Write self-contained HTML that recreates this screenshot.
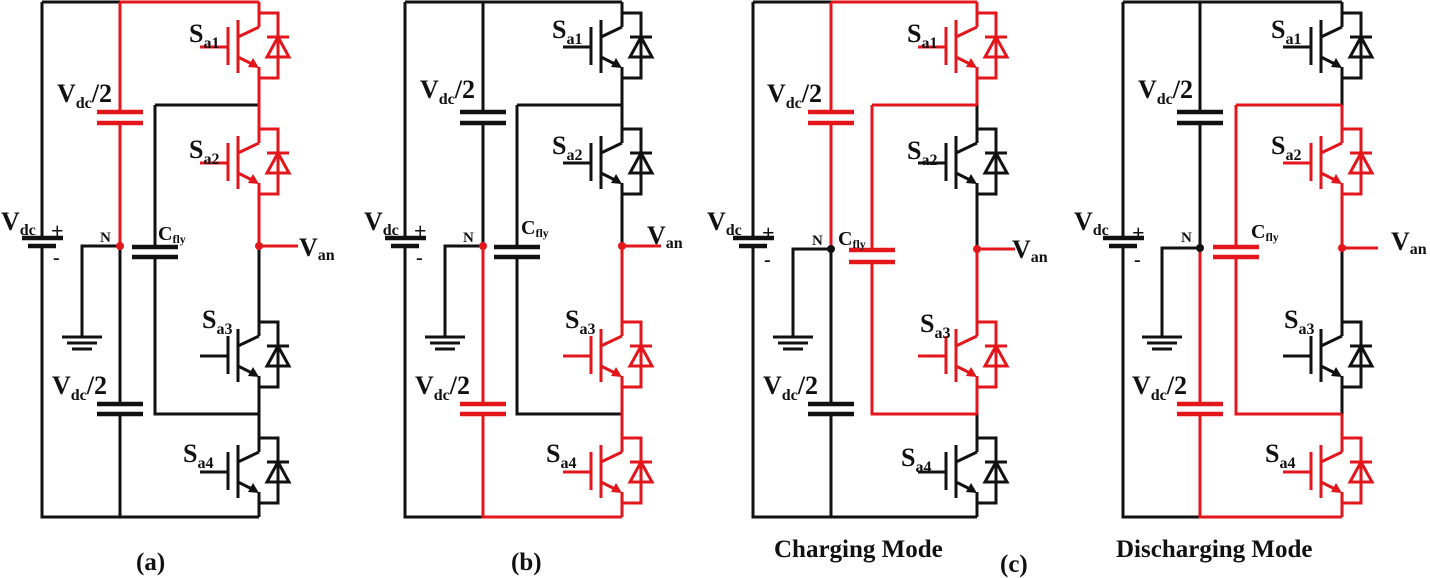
<!DOCTYPE html>
<html><head><meta charset="utf-8"><style>
html,body{margin:0;padding:0;background:#fff}
svg{display:block}
.k{stroke:#111;fill:none;stroke-width:3}
.r{stroke:#e3161c;fill:none;stroke-width:3}
.pk{stroke:#111;stroke-width:4.5}
.pr{stroke:#e3161c;stroke-width:4.5}
text{font-family:"Liberation Serif",serif;font-weight:bold;fill:#111}
.t{font-size:26px}
.s{font-size:16px}
.n{font-size:15px}
.cap{font-size:25px}
</style></head><body>
<svg width="1430" height="578" viewBox="0 0 1430 578" xmlns="http://www.w3.org/2000/svg">
<defs>
<g id="sw" fill="none" stroke="currentColor" stroke-width="3">
<path d="M-59,0 H-31 M-31,-20 V18 M-21,-27 V26 M-21,-10 L0,-20 M0,-34 V-20 M-21,10 L-5,18 M0,20 V31 M0,-34 H19 V31 H0 M8,-10 H30 M19,-10 L8,10 H30 Z"/>
<path d="M0,21 L-11,20 L-6,11 Z" fill="currentColor" stroke="none"/>
</g>
<g id="gnd" stroke="#111" stroke-width="3"><path d="M-20,0 H20 M-15,6 H15 M-10,12 H10"/></g>
</defs>

<!-- ================= Panel (a) ================= -->
<path class="k" d="M42,2 V238 M42,246 V517 H259 M42,2 H120 M120,246 V404 M120,414 V517 M155,105 H259 M155,105 V247 M155,257 V414 H259 M120,246 H82 V337 M259,246 V322 M259,387 V438 M259,503 V517"/>
<path class="pk" d="M97,404 H143 M97,414 H143 M132,247 H178 M132,257 H178 M22,238 H63 M28,246 H56"/>
<use href="#gnd" x="82" y="337"/>
<path class="r" d="M120,2 H259 M120,2 V112 M120,123 V246 M259,2 V13 M259,78 V129 M259,194 V246 H298"/>
<path class="pr" d="M97,112 H143 M97,123 H143"/>
<use href="#sw" x="259" y="47" color="#e3161c"/>
<use href="#sw" x="259" y="163" color="#e3161c"/>
<use href="#sw" x="259" y="356" color="#111"/>
<use href="#sw" x="259" y="472" color="#111"/>
<circle cx="120" cy="246" r="4" fill="#e3161c"/><circle cx="259" cy="246" r="4" fill="#e3161c"/>

<!-- ================= Panel (b) ================= -->
<path class="k" d="M405,2 V238 M405,246 V517 H483 M405,2 H622 M483,2 V112 M483,123 V246 M517,105 H622 M517,105 V247 M517,257 V414 H622 M483,246 H445 V337 M622,2 V13 M622,78 V129 M622,194 V246"/>
<path class="pk" d="M460,112 H506 M460,123 H506 M494,247 H540 M494,257 H540 M385,238 H426 M391,246 H419"/>
<use href="#gnd" x="445" y="337"/>
<path class="r" d="M483,246 V404 M483,414 V517 H622 M622,246 V322 M622,387 V438 M622,503 V517 M622,246 H661"/>
<path class="pr" d="M460,404 H506 M460,414 H506"/>
<use href="#sw" x="622" y="47" color="#111"/>
<use href="#sw" x="622" y="163" color="#111"/>
<use href="#sw" x="622" y="356" color="#e3161c"/>
<use href="#sw" x="622" y="472" color="#e3161c"/>
<circle cx="483" cy="246" r="4" fill="#e3161c"/><circle cx="622" cy="246" r="4" fill="#e3161c"/>

<!-- ================= Panel (c) ================= -->
<path class="k" d="M753,2 V238 M753,246 V517 H977 M753,2 H831 M831,249 V404 M831,414 V517 M831,249 H793 V337 M977,105 V129 M977,194 V249 M977,414 V438 M977,503 V517"/>
<path class="pk" d="M808,404 H854 M808,414 H854 M733,238 H774 M739,246 H767"/>
<use href="#gnd" x="793" y="337"/>
<path class="r" d="M831,2 H977 M831,2 V112 M831,123 V249 M872,105 H977 M872,105 V250 M872,262 V414 H977 M977,2 V13 M977,78 V105 M977,249 V322 M977,387 V414 M977,249 H1015"/>
<path class="pr" d="M808,112 H854 M808,123 H854 M849,250 H895 M849,262 H895"/>
<use href="#sw" x="977" y="47" color="#e3161c"/>
<use href="#sw" x="977" y="163" color="#111"/>
<use href="#sw" x="977" y="356" color="#e3161c"/>
<use href="#sw" x="977" y="472" color="#111"/>
<circle cx="831" cy="249" r="4" fill="#111"/><circle cx="977" cy="249" r="4" fill="#e3161c"/>

<!-- ================= Panel (d) ================= -->
<path class="k" d="M1123,2 V238 M1123,246 V517 H1200 M1123,2 H1342 M1200,2 V112 M1200,123 V248 M1200,248 H1162 V337 M1342,2 V13 M1342,78 V105 M1342,248 V322 M1342,387 V414"/>
<path class="pk" d="M1177,112 H1223 M1177,123 H1223 M1103,238 H1144 M1109,246 H1137"/>
<use href="#gnd" x="1162" y="337"/>
<path class="r" d="M1200,248 V404 M1200,414 V517 H1342 M1236,105 H1342 M1236,105 V247 M1236,257 V414 H1342 M1342,105 V129 M1342,194 V248 M1342,414 V438 M1342,503 V517 M1342,248 H1378"/>
<path class="pr" d="M1177,404 H1223 M1177,414 H1223 M1213,247 H1259 M1213,257 H1259"/>
<use href="#sw" x="1342" y="47" color="#111"/>
<use href="#sw" x="1342" y="163" color="#e3161c"/>
<use href="#sw" x="1342" y="356" color="#111"/>
<use href="#sw" x="1342" y="472" color="#e3161c"/>
<circle cx="1200" cy="248" r="4" fill="#111"/><circle cx="1342" cy="248" r="4" fill="#e3161c"/>

<!-- ================= Labels ================= -->
<text class="t" x="57" y="102">V<tspan class="s" dy="6">dc</tspan><tspan dy="-6">/2</tspan></text>
<text class="t" x="52" y="394">V<tspan class="s" dy="6">dc</tspan><tspan dy="-6">/2</tspan></text>
<text class="t" x="1" y="230">V<tspan class="s" dy="5">dc</tspan></text>
<text class="t" x="51" y="238" style="font-size:22px">+</text><text class="t" x="53" y="264" style="font-size:20px">-</text>
<text class="n" x="100" y="242">N</text>
<text class="t" x="158" y="240" style="font-size:20px">C<tspan class="s" style="font-size:12px" dy="3">fly</tspan></text>
<text class="t" x="189" y="42">S<tspan class="s" dy="6">a1</tspan></text>
<text class="t" x="189" y="158">S<tspan class="s" dy="6">a2</tspan></text>
<text class="t" x="202" y="328">S<tspan class="s" dy="6">a3</tspan></text>
<text class="t" x="183" y="462">S<tspan class="s" dy="6">a4</tspan></text>
<text class="t" x="299" y="256">V<tspan class="s" dy="4">an</tspan></text>
<text class="cap" x="136" y="570">(a)</text>

<text class="t" x="420" y="98">V<tspan class="s" dy="6">dc</tspan><tspan dy="-6">/2</tspan></text>
<text class="t" x="415" y="394">V<tspan class="s" dy="6">dc</tspan><tspan dy="-6">/2</tspan></text>
<text class="t" x="364" y="230">V<tspan class="s" dy="5">dc</tspan></text>
<text class="t" x="414" y="238" style="font-size:22px">+</text><text class="t" x="416" y="264" style="font-size:20px">-</text>
<text class="n" x="463" y="242">N</text>
<text class="t" x="521" y="234" style="font-size:20px">C<tspan class="s" style="font-size:12px" dy="3">fly</tspan></text>
<text class="t" x="552" y="38">S<tspan class="s" dy="6">a1</tspan></text>
<text class="t" x="552" y="154">S<tspan class="s" dy="6">a2</tspan></text>
<text class="t" x="565" y="328">S<tspan class="s" dy="6">a3</tspan></text>
<text class="t" x="546" y="462">S<tspan class="s" dy="6">a4</tspan></text>
<text class="t" x="647" y="244">V<tspan class="s" dy="4">an</tspan></text>
<text class="cap" x="511" y="570">(b)</text>

<text class="t" x="767" y="102">V<tspan class="s" dy="6">dc</tspan><tspan dy="-6">/2</tspan></text>
<text class="t" x="763" y="394">V<tspan class="s" dy="6">dc</tspan><tspan dy="-6">/2</tspan></text>
<text class="t" x="707" y="230">V<tspan class="s" dy="5">dc</tspan></text>
<text class="t" x="762" y="240" style="font-size:22px">+</text><text class="t" x="764" y="266" style="font-size:20px">-</text>
<text class="n" x="812" y="245">N</text>
<text class="t" x="838" y="245" style="font-size:20px">C<tspan class="s" style="font-size:12px" dy="3">fly</tspan></text>
<text class="t" x="907" y="42">S<tspan class="s" dy="6">a1</tspan></text>
<text class="t" x="907" y="159">S<tspan class="s" dy="6">a2</tspan></text>
<text class="t" x="920" y="332">S<tspan class="s" dy="6">a3</tspan></text>
<text class="t" x="901" y="466">S<tspan class="s" dy="6">a4</tspan></text>
<text class="t" x="1012" y="258">V<tspan class="s" dy="4">an</tspan></text>
<text class="cap" x="774" y="557">Charging Mode</text>
<text class="cap" x="1000" y="572">(c)</text>

<text class="t" x="1138" y="98">V<tspan class="s" dy="6">dc</tspan><tspan dy="-6">/2</tspan></text>
<text class="t" x="1132" y="394">V<tspan class="s" dy="6">dc</tspan><tspan dy="-6">/2</tspan></text>
<text class="t" x="1074" y="230">V<tspan class="s" dy="5">dc</tspan></text>
<text class="t" x="1132" y="240" style="font-size:22px">+</text><text class="t" x="1134" y="266" style="font-size:20px">-</text>
<text class="n" x="1181" y="242">N</text>
<text class="t" x="1251" y="238" style="font-size:20px">C<tspan class="s" style="font-size:12px" dy="3">fly</tspan></text>
<text class="t" x="1271" y="38">S<tspan class="s" dy="6">a1</tspan></text>
<text class="t" x="1271" y="154">S<tspan class="s" dy="6">a2</tspan></text>
<text class="t" x="1284" y="328">S<tspan class="s" dy="6">a3</tspan></text>
<text class="t" x="1265" y="462">S<tspan class="s" dy="6">a4</tspan></text>
<text class="t" x="1391" y="250">V<tspan class="s" dy="4">an</tspan></text>
<text class="cap" x="1116" y="557">Discharging Mode</text>
</svg>
</body></html>
